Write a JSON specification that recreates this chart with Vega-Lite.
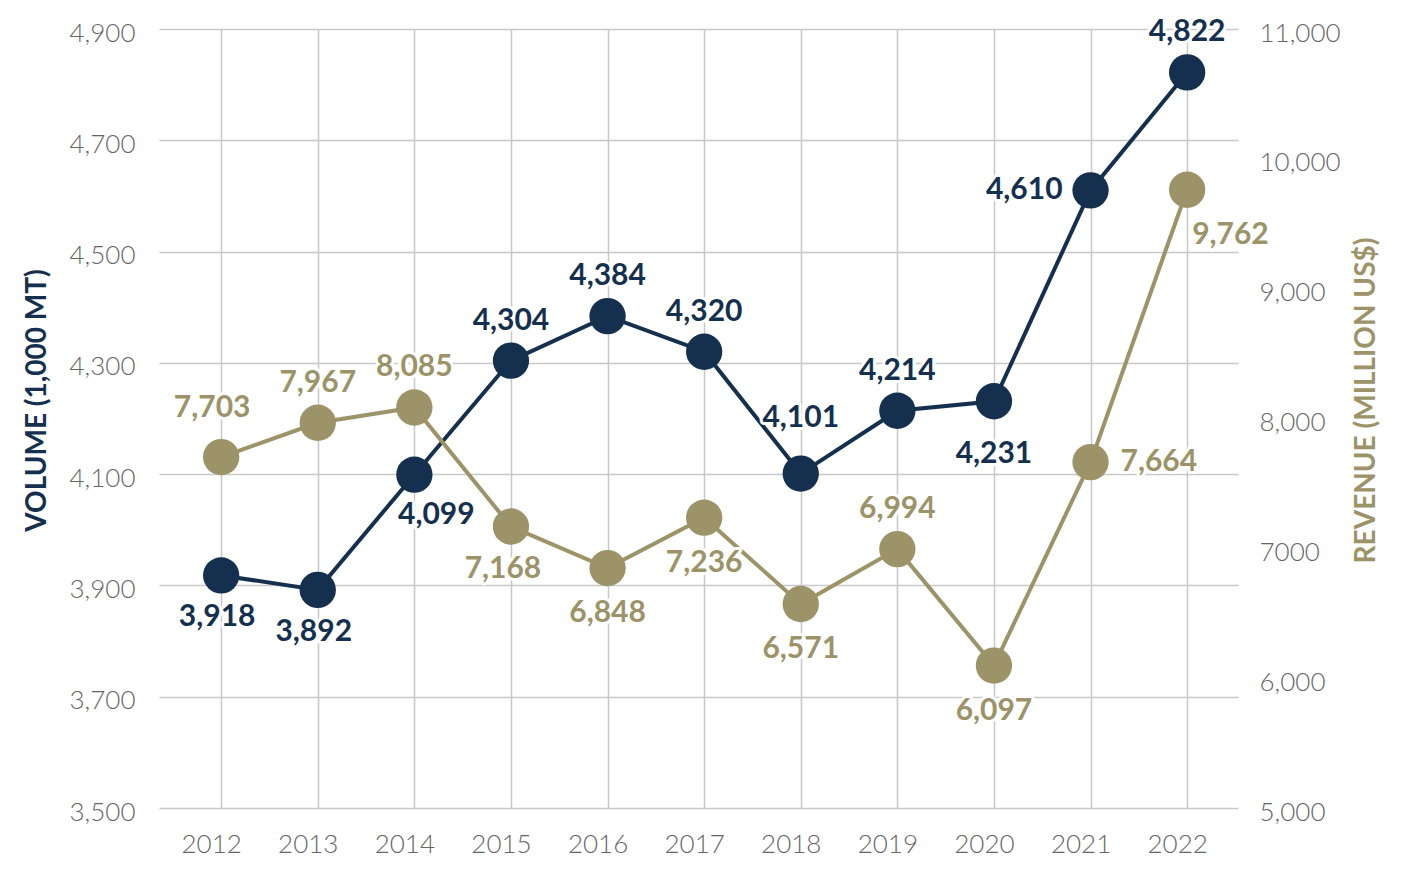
{
  "$schema": "https://vega.github.io/schema/vega-lite/v6.json",
  "width": 1079,
  "height": 779,
  "autosize": {"type": "none"},
  "padding": {"left": 159, "top": 29, "right": 171, "bottom": 63},
  "background": "white",
  "config": {"view": {"stroke": null}, "font": "Lato"},
  "data": {"values": [
    {"year": 2012, "volume": 3918, "revenue": 7703},
    {"year": 2013, "volume": 3892, "revenue": 7967},
    {"year": 2014, "volume": 4099, "revenue": 8085},
    {"year": 2015, "volume": 4304, "revenue": 7168},
    {"year": 2016, "volume": 4384, "revenue": 6848},
    {"year": 2017, "volume": 4320, "revenue": 7236},
    {"year": 2018, "volume": 4101, "revenue": 6571},
    {"year": 2019, "volume": 4214, "revenue": 6994},
    {"year": 2020, "volume": 4231, "revenue": 6097},
    {"year": 2021, "volume": 4610, "revenue": 7664},
    {"year": 2022, "volume": 4822, "revenue": 9762}
  ]},
  "encoding": {
    "x": {
      "field": "year", "type": "ordinal",
      "scale": {"type": "point", "padding": 0.585, "align": 0.55},
      "axis": {"title": null, "grid": true, "gridColor": "#c8c8c8", "gridWidth": 1.5, "domain": false, "ticks": false, "labelAngle": 0, "labelFont": "Lato", "labelFontWeight": 300, "labelFontSize": 26, "labelColor": "#666666", "labelPadding": 23, "labelOffset": -10}
    }
  },
  "layer": [
    {
      "encoding": {"y": {"field": "volume", "type": "quantitative", "scale": {"domain": [3500, 4900], "nice": false, "zero": false},
        "axis": {"orient": "left", "values": [3500, 3700, 3900, 4100, 4300, 4500, 4700, 4900], "labelExpr": "format(datum.value, ',')", "grid": true, "gridColor": "#c8c8c8", "gridWidth": 1.5, "domain": false, "ticks": false, "labelFont": "Lato", "labelFontWeight": 300, "labelFontSize": 26, "labelColor": "#666666", "labelPadding": 24, "labelOffset": 4, "title": "VOLUME (1,000 MT)", "titleFont": "Lato", "titleFontWeight": "bold", "titleFontSize": 28, "titleColor": "#15304f", "titlePadding": 17, "titleY": 371}}},
      "layer": [
        {"mark": {"type": "line", "color": "#15304f", "strokeWidth": 4}},
        {"mark": {"type": "circle", "size": 1320, "opacity": 1, "color": "#15304f"}}
      ]
    },
    {
      "encoding": {"y": {"field": "revenue", "type": "quantitative", "scale": {"domain": [5000, 11000], "nice": false, "zero": false},
        "axis": {"orient": "right", "values": [5000, 6000, 7000, 8000, 9000, 10000, 11000], "labelExpr": "datum.value == 7000 ? '7000' : format(datum.value, ',')", "grid": false, "domain": false, "ticks": false, "labelFont": "Lato", "labelFontWeight": 300, "labelFontSize": 26, "labelColor": "#666666", "labelPadding": 21, "labelOffset": 4, "title": "REVENUE (MILLION US$)", "titleFont": "Lato", "titleFontWeight": "bold", "titleFontSize": 28, "titleColor": "#9c9368", "titlePadding": 40, "titleAngle": 270, "titleY": 371}}},
      "layer": [
        {"mark": {"type": "line", "color": "#9c9368", "strokeWidth": 4}},
        {"mark": {"type": "circle", "size": 1320, "opacity": 1, "color": "#9c9368"}}
      ]
    },
    {
      "transform": [{"filter": {"field": "year", "oneOf": [2015, 2016, 2017, 2019, 2022]}}],
      "encoding": {"y": {"field": "volume", "type": "quantitative", "scale": {"domain": [3500, 4900], "nice": false, "zero": false}, "axis": null}, "text": {"field": "volume", "format": ","}},
      "layer": [
        {"mark": {"type": "text", "dy": -40, "font": "Lato", "fontWeight": "bold", "fontSize": 30, "fill": "white", "stroke": "white", "strokeWidth": 6, "strokeJoin": "round"}},
        {"mark": {"type": "text", "dy": -40, "font": "Lato", "fontWeight": "bold", "fontSize": 30, "fill": "#15304f"}}
      ]
    },
    {
      "transform": [{"filter": {"field": "year", "oneOf": [2018]}}],
      "encoding": {"y": {"field": "volume", "type": "quantitative", "scale": {"domain": [3500, 4900], "nice": false, "zero": false}, "axis": null}, "text": {"field": "volume", "format": ","}},
      "layer": [
        {"mark": {"type": "text", "dy": -56, "font": "Lato", "fontWeight": "bold", "fontSize": 30, "fill": "white", "stroke": "white", "strokeWidth": 6, "strokeJoin": "round"}},
        {"mark": {"type": "text", "dy": -56, "font": "Lato", "fontWeight": "bold", "fontSize": 30, "fill": "#15304f"}}
      ]
    },
    {
      "transform": [{"filter": {"field": "year", "oneOf": [2012, 2013]}}],
      "encoding": {"y": {"field": "volume", "type": "quantitative", "scale": {"domain": [3500, 4900], "nice": false, "zero": false}, "axis": null}, "text": {"field": "volume", "format": ","}},
      "layer": [
        {"mark": {"type": "text", "dx": -4, "dy": 42, "font": "Lato", "fontWeight": "bold", "fontSize": 30, "fill": "white", "stroke": "white", "strokeWidth": 6, "strokeJoin": "round"}},
        {"mark": {"type": "text", "dx": -4, "dy": 42, "font": "Lato", "fontWeight": "bold", "fontSize": 30, "fill": "#15304f"}}
      ]
    },
    {
      "transform": [{"filter": {"field": "year", "oneOf": [2020]}}],
      "encoding": {"y": {"field": "volume", "type": "quantitative", "scale": {"domain": [3500, 4900], "nice": false, "zero": false}, "axis": null}, "text": {"field": "volume", "format": ","}},
      "layer": [
        {"mark": {"type": "text", "dy": 53, "font": "Lato", "fontWeight": "bold", "fontSize": 30, "fill": "white", "stroke": "white", "strokeWidth": 6, "strokeJoin": "round"}},
        {"mark": {"type": "text", "dy": 53, "font": "Lato", "fontWeight": "bold", "fontSize": 30, "fill": "#15304f"}}
      ]
    },
    {
      "transform": [{"filter": {"field": "year", "oneOf": [2014]}}],
      "encoding": {"y": {"field": "volume", "type": "quantitative", "scale": {"domain": [3500, 4900], "nice": false, "zero": false}, "axis": null}, "text": {"field": "volume", "format": ","}},
      "layer": [
        {"mark": {"type": "text", "dx": 22, "dy": 40, "font": "Lato", "fontWeight": "bold", "fontSize": 30, "fill": "white", "stroke": "white", "strokeWidth": 6, "strokeJoin": "round"}},
        {"mark": {"type": "text", "dx": 22, "dy": 40, "font": "Lato", "fontWeight": "bold", "fontSize": 30, "fill": "#15304f"}}
      ]
    },
    {
      "transform": [{"filter": {"field": "year", "oneOf": [2021]}}],
      "encoding": {"y": {"field": "volume", "type": "quantitative", "scale": {"domain": [3500, 4900], "nice": false, "zero": false}, "axis": null}, "text": {"field": "volume", "format": ","}},
      "layer": [
        {"mark": {"type": "text", "align": "right", "dx": -28, "font": "Lato", "fontWeight": "bold", "fontSize": 30, "fill": "white", "stroke": "white", "strokeWidth": 6, "strokeJoin": "round"}},
        {"mark": {"type": "text", "align": "right", "dx": -28, "font": "Lato", "fontWeight": "bold", "fontSize": 30, "fill": "#15304f"}}
      ]
    },
    {
      "transform": [{"filter": {"field": "year", "oneOf": [2013, 2014, 2019]}}],
      "encoding": {"y": {"field": "revenue", "type": "quantitative", "scale": {"domain": [5000, 11000], "nice": false, "zero": false}, "axis": null}, "text": {"field": "revenue", "format": ","}},
      "layer": [
        {"mark": {"type": "text", "dy": -40, "font": "Lato", "fontWeight": "bold", "fontSize": 30, "fill": "white", "stroke": "white", "strokeWidth": 6, "strokeJoin": "round"}},
        {"mark": {"type": "text", "dy": -40, "font": "Lato", "fontWeight": "bold", "fontSize": 30, "fill": "#9c9368"}}
      ]
    },
    {
      "transform": [{"filter": {"field": "year", "oneOf": [2012]}}],
      "encoding": {"y": {"field": "revenue", "type": "quantitative", "scale": {"domain": [5000, 11000], "nice": false, "zero": false}, "axis": null}, "text": {"field": "revenue", "format": ","}},
      "layer": [
        {"mark": {"type": "text", "dx": -9, "dy": -49, "font": "Lato", "fontWeight": "bold", "fontSize": 30, "fill": "white", "stroke": "white", "strokeWidth": 6, "strokeJoin": "round"}},
        {"mark": {"type": "text", "dx": -9, "dy": -49, "font": "Lato", "fontWeight": "bold", "fontSize": 30, "fill": "#9c9368"}}
      ]
    },
    {
      "transform": [{"filter": {"field": "year", "oneOf": [2016, 2017, 2018, 2020]}}],
      "encoding": {"y": {"field": "revenue", "type": "quantitative", "scale": {"domain": [5000, 11000], "nice": false, "zero": false}, "axis": null}, "text": {"field": "revenue", "format": ","}},
      "layer": [
        {"mark": {"type": "text", "dy": 45, "font": "Lato", "fontWeight": "bold", "fontSize": 30, "fill": "white", "stroke": "white", "strokeWidth": 6, "strokeJoin": "round"}},
        {"mark": {"type": "text", "dy": 45, "font": "Lato", "fontWeight": "bold", "fontSize": 30, "fill": "#9c9368"}}
      ]
    },
    {
      "transform": [{"filter": {"field": "year", "oneOf": [2015]}}],
      "encoding": {"y": {"field": "revenue", "type": "quantitative", "scale": {"domain": [5000, 11000], "nice": false, "zero": false}, "axis": null}, "text": {"field": "revenue", "format": ","}},
      "layer": [
        {"mark": {"type": "text", "dx": -8, "dy": 42, "font": "Lato", "fontWeight": "bold", "fontSize": 30, "fill": "white", "stroke": "white", "strokeWidth": 6, "strokeJoin": "round"}},
        {"mark": {"type": "text", "dx": -8, "dy": 42, "font": "Lato", "fontWeight": "bold", "fontSize": 30, "fill": "#9c9368"}}
      ]
    },
    {
      "transform": [{"filter": {"field": "year", "oneOf": [2021]}}],
      "encoding": {"y": {"field": "revenue", "type": "quantitative", "scale": {"domain": [5000, 11000], "nice": false, "zero": false}, "axis": null}, "text": {"field": "revenue", "format": ","}},
      "layer": [
        {"mark": {"type": "text", "align": "left", "dx": 30, "font": "Lato", "fontWeight": "bold", "fontSize": 30, "fill": "white", "stroke": "white", "strokeWidth": 6, "strokeJoin": "round"}},
        {"mark": {"type": "text", "align": "left", "dx": 30, "font": "Lato", "fontWeight": "bold", "fontSize": 30, "fill": "#9c9368"}}
      ]
    },
    {
      "transform": [{"filter": {"field": "year", "oneOf": [2022]}}],
      "encoding": {"y": {"field": "revenue", "type": "quantitative", "scale": {"domain": [5000, 11000], "nice": false, "zero": false}, "axis": null}, "text": {"field": "revenue", "format": ","}},
      "layer": [
        {"mark": {"type": "text", "align": "left", "dx": 5, "dy": 45, "font": "Lato", "fontWeight": "bold", "fontSize": 30, "fill": "white", "stroke": "white", "strokeWidth": 6, "strokeJoin": "round"}},
        {"mark": {"type": "text", "align": "left", "dx": 5, "dy": 45, "font": "Lato", "fontWeight": "bold", "fontSize": 30, "fill": "#9c9368"}}
      ]
    }
  ],
  "resolve": {"scale": {"y": "independent"}}
}
